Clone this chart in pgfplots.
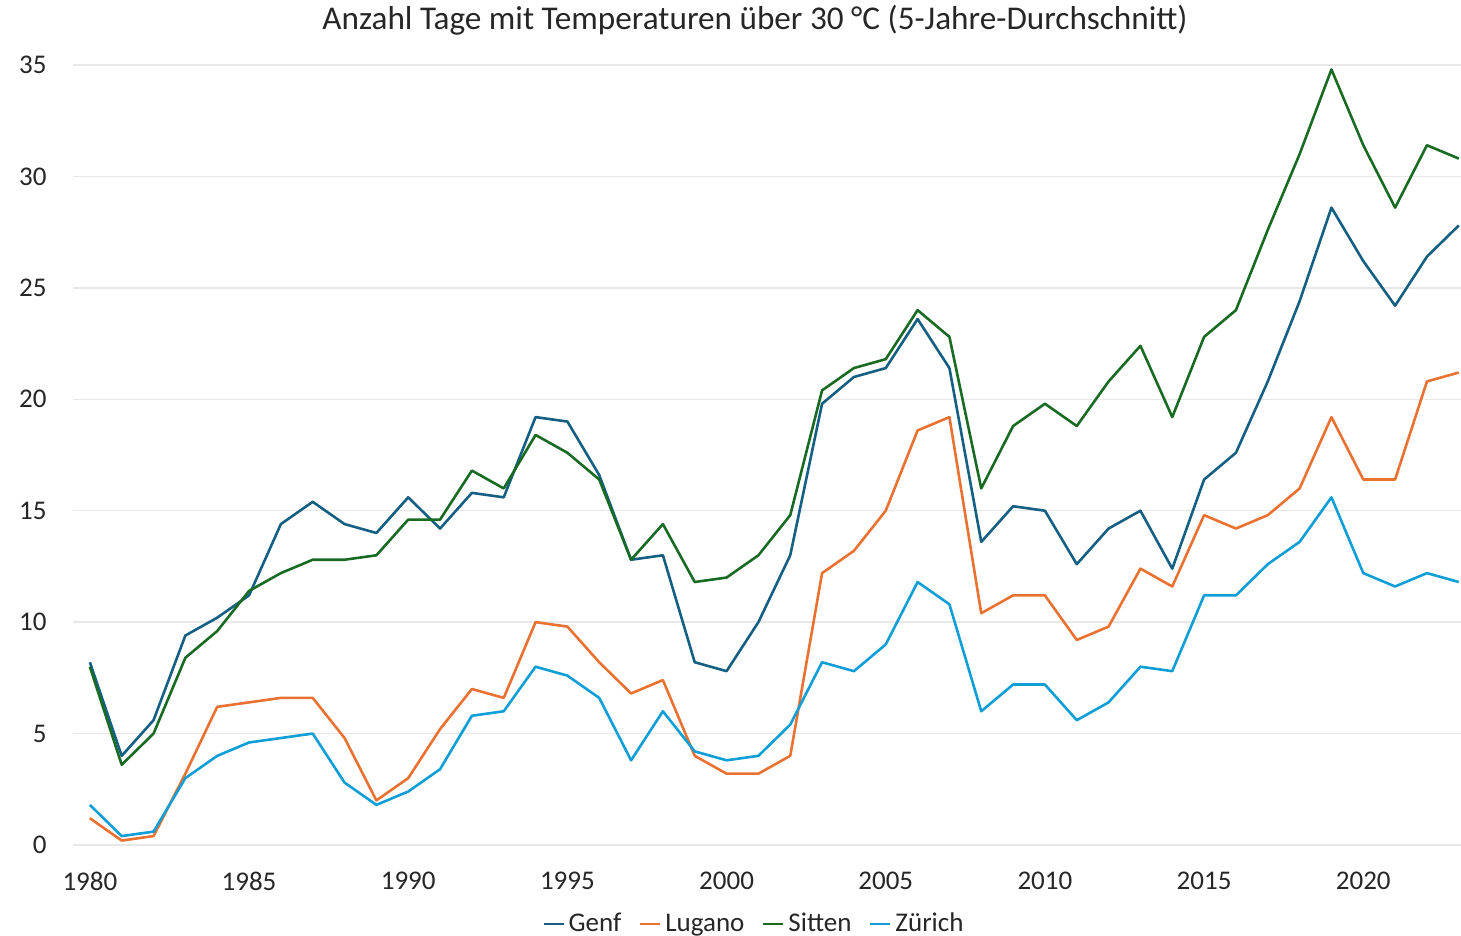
\documentclass[border=0pt]{standalone}
\usepackage{fontspec}
\setmainfont{Carlito}
\usepackage{pgfplots}
\pgfplotsset{compat=1.18}
\definecolor{cGenf}{HTML}{156082}
\definecolor{cLugano}{HTML}{E97132}
\definecolor{cSitten}{HTML}{196B24}
\definecolor{cZuerich}{HTML}{0F9ED5}
\begin{document}
\begin{tikzpicture}
\path[use as bounding box] (0,0) rectangle (730.5pt,468pt);
\node[font=\fontsize{16.6}{19}\selectfont, text=black!85, anchor=center, inner sep=0pt] at (377.5pt,458pt) {Anzahl Tage mit Temperaturen über 30 °C (5-Jahre-Durchschnitt)};
\begin{axis}[
  at={(36.5pt,45.5pt)}, anchor=south west,
  scale only axis, width=694pt, height=390pt,
  xmin=1979.47, xmax=2023.07, ymin=0, ymax=35,
  xtick={1980,1985,...,2020}, ytick={0,5,...,35},
  /pgf/number format/assume math mode=true,
  /pgf/number format/1000 sep={},
  tick label style={font=\fontsize{13.5}{16}\selectfont, text=black!85},
  yticklabel style={anchor=east, inner sep=0pt, xshift=-13pt},
  xticklabel style={anchor=center, inner sep=0pt, yshift=-18pt},
  major tick length=0pt,
  axis line style={draw=none},
  ymajorgrids, major grid style={color=black!9, line width=0.7pt},
  legend columns=4,
  legend style={draw=none, at={(axis description cs:0.4914,-0.1013)}, anchor=center, font=\fontsize{13.5}{16}\selectfont, text=black!85, inner sep=0pt,
    /tikz/every even column/.append style={column sep=7pt}},
  legend image code/.code={\draw[#1, line width=1pt] (0pt,0pt) -- (10pt,0pt);},
  every axis plot/.append style={line width=1.3pt, line join=round, mark=none},
]
\addplot[cGenf] coordinates {
(1980,8.2)(1981,4.0)(1982,5.6)(1983,9.4)(1984,10.2)(1985,11.2)(1986,14.4)(1987,15.4)(1988,14.4)(1989,14.0)
(1990,15.6)(1991,14.2)(1992,15.8)(1993,15.6)(1994,19.2)(1995,19.0)(1996,16.6)(1997,12.8)(1998,13.0)(1999,8.2)
(2000,7.8)(2001,10.0)(2002,13.0)(2003,19.8)(2004,21.0)(2005,21.4)(2006,23.6)(2007,21.4)(2008,13.6)(2009,15.2)
(2010,15.0)(2011,12.6)(2012,14.2)(2013,15.0)(2014,12.4)(2015,16.4)(2016,17.6)(2017,20.8)(2018,24.4)(2019,28.6)
(2020,26.2)(2021,24.2)(2022,26.4)(2023,27.8)};
\addlegendentry{Genf}
\addplot[cLugano] coordinates {
(1980,1.2)(1981,0.2)(1982,0.4)(1983,3.2)(1984,6.2)(1985,6.4)(1986,6.6)(1987,6.6)(1988,4.8)(1989,2.0)
(1990,3.0)(1991,5.2)(1992,7.0)(1993,6.6)(1994,10.0)(1995,9.8)(1996,8.2)(1997,6.8)(1998,7.4)(1999,4.0)
(2000,3.2)(2001,3.2)(2002,4.0)(2003,12.2)(2004,13.2)(2005,15.0)(2006,18.6)(2007,19.2)(2008,10.4)(2009,11.2)
(2010,11.2)(2011,9.2)(2012,9.8)(2013,12.4)(2014,11.6)(2015,14.8)(2016,14.2)(2017,14.8)(2018,16.0)(2019,19.2)
(2020,16.4)(2021,16.4)(2022,20.8)(2023,21.2)};
\addlegendentry{Lugano}
\addplot[cSitten] coordinates {
(1980,8.0)(1981,3.6)(1982,5.0)(1983,8.4)(1984,9.6)(1985,11.4)(1986,12.2)(1987,12.8)(1988,12.8)(1989,13.0)
(1990,14.6)(1991,14.6)(1992,16.8)(1993,16.0)(1994,18.4)(1995,17.6)(1996,16.4)(1997,12.8)(1998,14.4)(1999,11.8)
(2000,12.0)(2001,13.0)(2002,14.8)(2003,20.4)(2004,21.4)(2005,21.8)(2006,24.0)(2007,22.8)(2008,16.0)(2009,18.8)
(2010,19.8)(2011,18.8)(2012,20.8)(2013,22.4)(2014,19.2)(2015,22.8)(2016,24.0)(2017,27.6)(2018,31.0)(2019,34.8)
(2020,31.4)(2021,28.6)(2022,31.4)(2023,30.8)};
\addlegendentry{Sitten}
\addplot[cZuerich] coordinates {
(1980,1.8)(1981,0.4)(1982,0.6)(1983,3.0)(1984,4.0)(1985,4.6)(1986,4.8)(1987,5.0)(1988,2.8)(1989,1.8)
(1990,2.4)(1991,3.4)(1992,5.8)(1993,6.0)(1994,8.0)(1995,7.6)(1996,6.6)(1997,3.8)(1998,6.0)(1999,4.2)
(2000,3.8)(2001,4.0)(2002,5.4)(2003,8.2)(2004,7.8)(2005,9.0)(2006,11.8)(2007,10.8)(2008,6.0)(2009,7.2)
(2010,7.2)(2011,5.6)(2012,6.4)(2013,8.0)(2014,7.8)(2015,11.2)(2016,11.2)(2017,12.6)(2018,13.6)(2019,15.6)
(2020,12.2)(2021,11.6)(2022,12.2)(2023,11.8)};
\addlegendentry{Zürich}
\end{axis}
\end{tikzpicture}
\end{document}
